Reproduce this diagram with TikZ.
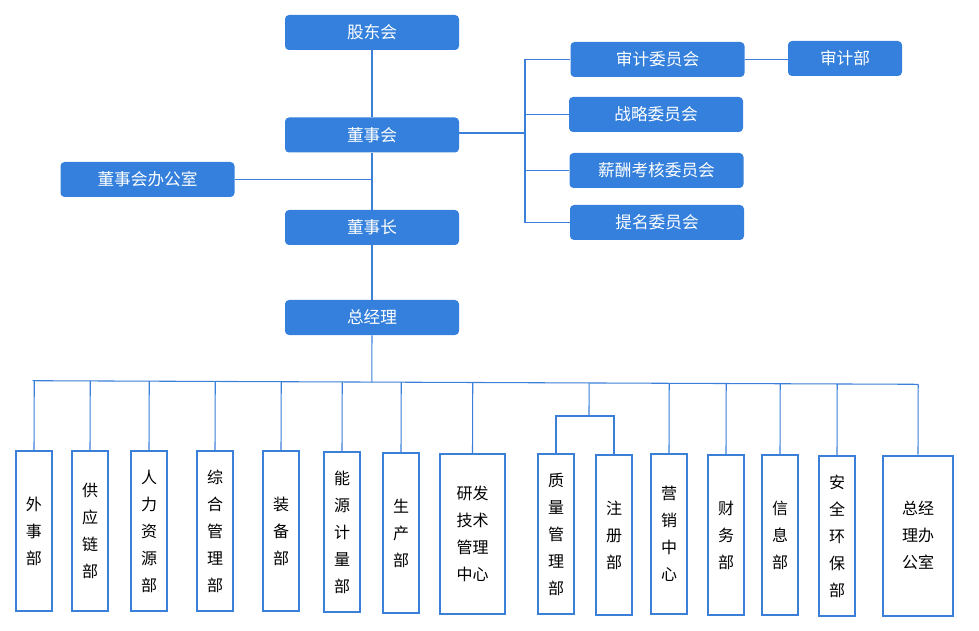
\documentclass[tikz,border=0pt]{standalone}
\usepackage{fontspec}
\setmainfont{Noto Sans CJK SC}
\usetikzlibrary{calc}
\definecolor{bluefill}{HTML}{3480DC}
\definecolor{lineblue}{HTML}{3A80D8}
\tikzset{
 topbox/.style={fill=bluefill, rounded corners=3pt, text=white, minimum height=26.25pt, minimum width=130.5pt, font=\fontsize{12.5}{15}\selectfont, inner sep=0pt},
 deptbox/.style={draw=lineblue, line width=1.5pt, fill=white, align=center, font=\fontsize{12}{20.25}\selectfont, inner sep=0pt, minimum width=27pt, minimum height=120pt},
 conn/.style={draw=lineblue, line width=0.8pt},
}
\begin{document}
\begin{tikzpicture}[x=0.75pt,y=-0.75pt]
\useasboundingbox (0,0) rectangle (979,631);
% top nodes
\node[topbox] (gdh) at (372,32.5) {股东会};
\node[topbox] (dsh) at (372,135) {董事会};
\node[topbox] (dsb) at (147.5,179.5) {董事会办公室};
\node[topbox] (dsz) at (372,227.5) {董事长};
\node[topbox] (zjl) at (372,317.5) {总经理};
\node[topbox] (c1) at (657.5,59.5) {审计委员会};
\node[topbox, minimum width=85.5pt] (sjb) at (845,58.5) {审计部};
\node[topbox] (c2) at (656,114.5) {战略委员会};
\node[topbox] (c3) at (656.5,170.5) {薪酬考核委员会};
\node[topbox] (c4) at (657,222.5) {提名委员会};
% top connectors
\coordinate (jc) at (525,133);
\draw[conn] (gdh.south) -- (dsh.north);
\draw[conn] (dsh.south) -- (dsz.north);
\draw[conn] (dsb.east) -- (dsb.east -| dsh.south);
\draw[conn] (dsz.south) -- (zjl.north);
\draw[conn] (dsh.east |- jc) -- (jc);
\draw[conn] (c1.west) -| (jc) |- (c4.west);
\draw[conn] (c2.west) -- (c2.west -| jc);
\draw[conn] (c3.west) -- (c3.west -| jc);
\draw[conn] (c1.east) -- (c1.east -| sjb.west);
% departments
\node[deptbox] (b1) at (34,531) {外\\事\\部};
\node[deptbox] (b2) at (90,531) {供\\应\\链\\部};
\node[deptbox] (b3) at (149,531) {人\\力\\资\\源\\部};
\node[deptbox] (b4) at (215,531) {综\\合\\管\\理\\部};
\node[deptbox] (b5) at (281,531) {装\\备\\部};
\node[deptbox] (b6) at (342,532) {能\\源\\计\\量\\部};
\node[deptbox] (b7) at (401,533) {生\\产\\部};
\node[deptbox, minimum width=49pt] (b8) at (472.5,534) {研发\\技术\\管理\\中心};
\node[deptbox] (b9) at (556,534) {质\\量\\管\\理\\部};
\node[deptbox] (b10) at (614,535) {注\\册\\部};
\node[deptbox] (b11) at (669,534) {营\\销\\中\\心};
\node[deptbox] (b12) at (726,535) {财\\务\\部};
\node[deptbox] (b13) at (780,535) {信\\息\\部};
\node[deptbox] (b14) at (837,536) {安\\全\\环\\保\\部};
\node[deptbox, minimum width=52.5pt] (b15) at (918,535.5) {总经\\理办\\公室};
% bus
\coordinate (busL) at (32.5,380.7);
\coordinate (busR) at (918,384.3);
\draw[conn] (busL) -- (busR);
\draw[conn] (zjl.south) -- ($(busL)!(zjl.south)!(busR)$);
\foreach \b in {b1,b2,b3,b4,b5,b6,b7,b8,b11,b12,b13,b14,b15}{
  \draw[conn] (\b.north) -- ($(busL)!(\b.north)!(busR)$);
}
\coordinate (jq) at (589,416);
\draw[conn] (b9.north) |- (jq) -| (b10.north);
\draw[conn] (jq) -- ($(busL)!(jq)!(busR)$);
\end{tikzpicture}
\end{document}
